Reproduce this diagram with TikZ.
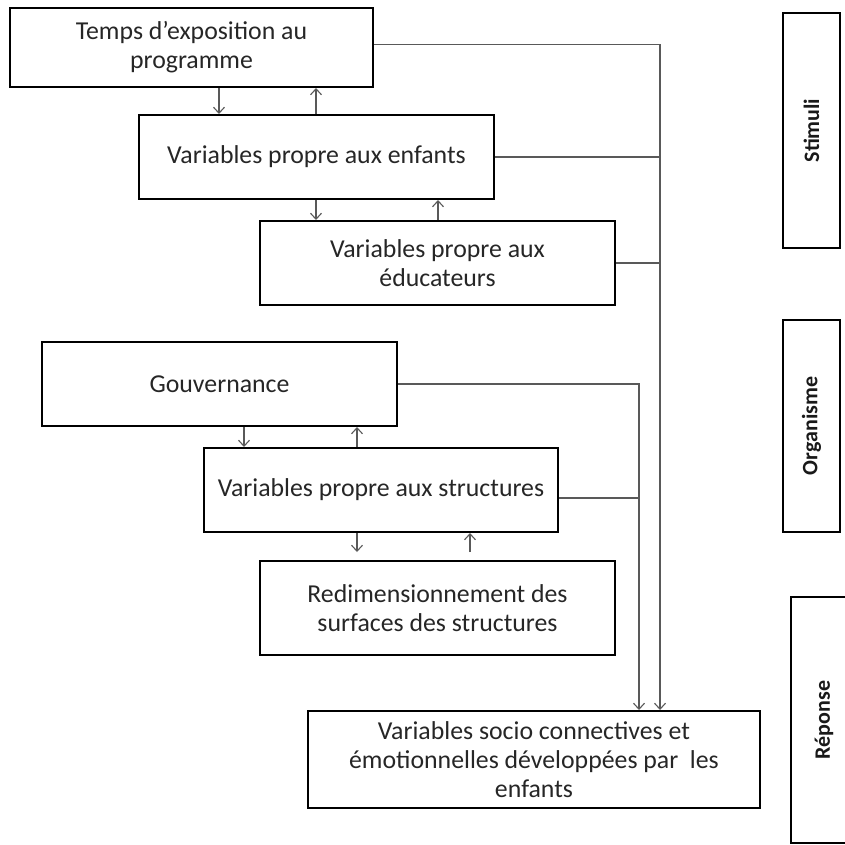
\documentclass[tikz,border=0pt]{standalone}
\usepackage{fontspec}
\setmainfont{Carlito}
\usetikzlibrary{arrows.meta}
\begin{document}
\begin{tikzpicture}[x=1pt,y=-1pt,
  box/.style={draw=black,line width=2pt,inner sep=0pt,align=center,
    font=\fontsize{25.8}{29}\selectfont,text=black!85},
  side/.style={draw=black,line width=2pt,inner sep=0pt,rotate=90,
    font=\fontsize{22}{24}\selectfont\bfseries,text=black!90},
  conn/.style={draw=black!65,line width=1.1pt},
  arr/.style={conn,-{Straight Barb[length=6pt,width=11pt]}}]
\useasboundingbox (0,0) rectangle (845,844);
\clip (0,0) rectangle (845,844);
% boxes
\node[box,minimum width=363pt,minimum height=79pt] (temps) at (191.5,47.5) {Temps d’exposition au\\programme};
\node[box,minimum width=355pt,minimum height=84pt] (enf) at (316.5,157) {Variables propre aux enfants};
\node[box,minimum width=355pt,minimum height=84pt] (educ) at (437.5,263) {Variables propre aux\\éducateurs};
\node[box,minimum width=355pt,minimum height=84pt] (gouv) at (219.5,384) {Gouvernance};
\node[box,minimum width=354pt,minimum height=84pt] (struct) at (381,490) {Variables propre aux structures};
\node[box,minimum width=355pt,minimum height=94pt] (redim) at (437.5,608) {Redimensionnement des\\surfaces des structures};
\node[box,minimum width=452pt,minimum height=97pt] (final) at (534,759.5) {Variables socio connectives et\\émotionnelles développées par~ les\\enfants};
% side labels
\node[side,minimum width=235pt,minimum height=57pt] (stim) at (811.5,130.5) {Stimuli};
\node[side,minimum width=212pt,minimum height=57pt] (orga) at (811.5,426) {Organisme};
\node[side,minimum width=246pt,minimum height=66pt] (rep) at (824,720) {Réponse};
% x positions
\coordinate (xa) at (219,0);
\coordinate (xb) at (316,0);
\coordinate (xc) at (438,0);
\coordinate (xd) at (244,0);
\coordinate (xe) at (357,0);
\coordinate (xf) at (470,0);
\coordinate (v1) at (660,0);
\coordinate (v2) at (639,0);
% vertical arrows between boxes
\draw[arr] (xa |- temps.south) -- (xa |- enf.north);
\draw[arr] (xb |- enf.north) -- (xb |- temps.south);
\draw[arr] (xb |- enf.south) -- (xb |- educ.north);
\draw[arr] (xc |- educ.north) -- (xc |- enf.south);
\draw[arr] (xd |- gouv.south) -- (xd |- struct.north);
\draw[arr] (xe |- struct.north) -- (xe |- gouv.south);
\draw[arr] (xe |- struct.south) -- ([yshift=8pt]xe |- redim.north);
\draw[arr] ([yshift=8pt]xf |- redim.north) -- (xf |- struct.south);
% right-hand collectors
\draw[arr] ([yshift=3pt]temps.east) -| (v1 |- final.north);
\draw[conn] (enf.east) -- (v1 |- enf.east);
\draw[conn] (educ.east) -- (v1 |- educ.east);
\draw[arr] (gouv.east) -| (v2 |- final.north);
\draw[conn] ([yshift=-8pt]struct.east) -- ([yshift=-8pt]v2 |- struct.east);
\end{tikzpicture}
\end{document}
